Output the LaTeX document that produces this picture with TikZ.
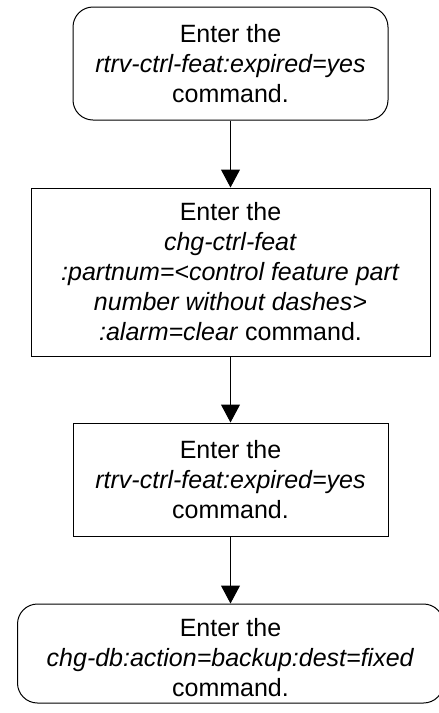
\documentclass[tikz,border=0pt]{standalone}
\usepackage{fontspec}
\setmainfont{Liberation Sans}
\usetikzlibrary{arrows.meta}
\begin{document}
\begin{tikzpicture}[x=1pt,y=-1pt,
  stepbox/.style={draw=black, line width=1pt, align=center, inner sep=0pt,
    font=\fontsize{25}{30}\selectfont},
  roundbox/.style={stepbox, rounded corners=20pt},
  arr/.style={line width=1pt, -{Triangle[length=18pt,width=19pt]}}]
\useasboundingbox (0,0) rectangle (439,713);
\node[roundbox, minimum width=315pt, minimum height=113pt] (b1) at (230.5,63.5)
  {Enter the\\ \textit{rtrv-ctrl-feat:expired=yes}\\ command.};
\node[stepbox, minimum width=399pt, minimum height=168pt] (b2) at (230.5,272)
  {Enter the\\ \textit{chg-ctrl-feat}\\ \textit{:partnum=<control feature part}\\ \textit{number without dashes>}\\ \textit{:alarm=clear} command.};
\node[stepbox, minimum width=315pt, minimum height=113pt] (b3) at (230.5,479.5)
  {Enter the\\ \textit{rtrv-ctrl-feat:expired=yes}\\ command.};
\node[roundbox, minimum width=426pt, minimum height=99pt] (b4) at (230.5,653.5)
  {\rule{0pt}{26pt}Enter the\\ \textit{chg-db:action=backup:dest=fixed}\\ command.};
\draw[arr] (b1) -- (b2);
\draw[arr] (b2) -- (b3);
\draw[arr] (b3) -- (b4);
\end{tikzpicture}
\end{document}
